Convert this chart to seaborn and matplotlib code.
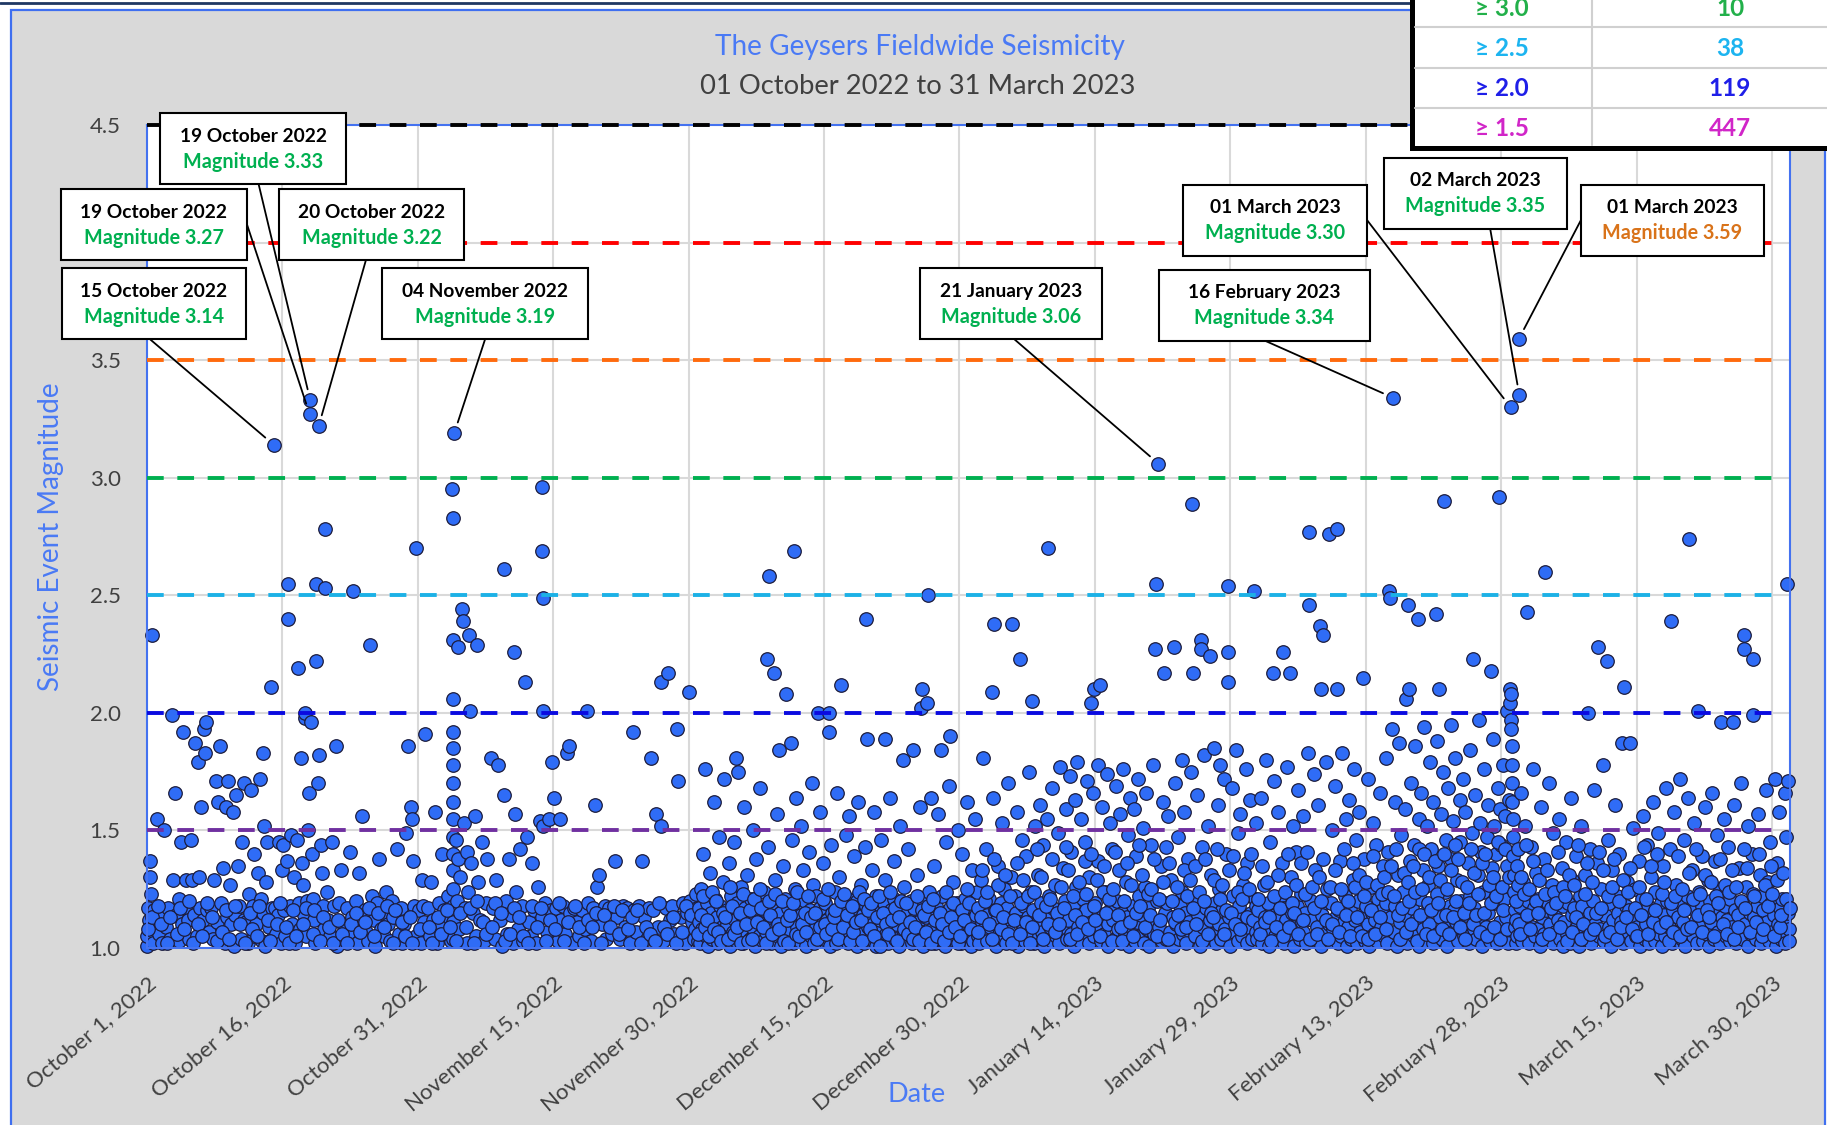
import matplotlib
matplotlib.use("Agg")
import matplotlib.pyplot as plt
import matplotlib.dates as mdates
from matplotlib.patches import Rectangle
from matplotlib.lines import Line2D
import numpy as np
import pandas as pd
import seaborn as sns

# ---------------------------------------------------------------------------
# Event catalogue: (day of month with fractional time, magnitude)
# ---------------------------------------------------------------------------
oct_events = [
    (1.0, 1.01), (1.0, 1.05), (1.1, 1.17), (1.2, 1.12), (1.3, 1.37), (1.3, 1.30), (1.4, 1.23), (1.6, 2.33), (1.7, 1.02), (1.8, 1.16),
    (2.1, 1.55), (2.3, 1.06), (2.5, 1.15), (2.7, 1.02), (2.9, 1.50),
    (3.1, 1.09), (3.3, 1.17), (3.6, 1.04), (3.8, 1.99), (3.9, 1.29),
    (4.1, 1.66), (4.2, 1.14), (4.5, 1.03), (4.6, 1.21), (4.8, 1.45), (4.9, 1.10),
    (5.0, 1.92), (5.2, 1.17), (5.3, 1.29), (5.5, 1.12), (5.7, 1.04), (5.9, 1.46),
    (6.0, 1.29), (6.2, 1.14), (6.3, 1.87), (6.5, 1.05), (6.6, 1.79), (6.8, 1.30), (6.9, 1.17),
    (7.0, 1.60), (7.2, 1.12), (7.3, 1.93), (7.4, 1.83), (7.5, 1.96), (7.7, 1.16), (7.9, 1.07),
    (8.1, 1.17), (8.3, 1.04), (8.4, 1.29), (8.6, 1.71), (8.8, 1.11), (8.9, 1.62),
    (9.1, 1.86), (9.2, 1.19), (9.4, 1.34), (9.6, 1.02), (9.7, 1.60), (9.9, 1.13),
    (10.0, 1.71), (10.2, 1.27), (10.3, 1.10), (10.5, 1.58), (10.6, 1.01), (10.8, 1.14), (10.9, 1.65),
    (11.1, 1.35), (11.2, 1.18), (11.4, 1.04), (11.5, 1.45), (11.7, 1.70), (11.8, 1.12),
    (12.0, 1.11), (12.2, 1.02), (12.3, 1.23), (12.5, 1.67), (12.7, 1.18), (12.8, 1.05), (12.9, 1.40),
    (13.1, 1.10), (13.3, 1.32), (13.5, 1.72), (13.6, 1.21), (13.7, 1.03), (13.8, 1.15), (13.9, 1.83),
    (14.0, 1.52), (14.1, 1.01), (14.2, 1.28), (14.3, 1.45), (14.5, 1.09), (14.7, 2.11), (14.8, 1.17), (14.9, 1.04),
    (15.04, 3.14), (15.2, 1.17), (15.3, 1.06), (15.5, 1.14), (15.6, 1.45), (15.8, 1.02), (15.9, 1.33),
    (16.1, 1.44), (16.2, 1.16), (16.3, 1.05), (16.5, 1.37), (16.6, 2.55), (16.65, 2.40), (16.8, 1.18), (16.9, 1.48),
    (17.1, 1.10), (17.3, 1.30), (17.4, 1.02), (17.6, 1.46), (17.7, 2.19), (17.8, 1.19), (17.9, 1.08),
    (18.1, 1.81), (18.2, 1.36), (18.3, 1.27), (18.4, 1.14), (18.5, 1.98), (18.55, 2.00), (18.6, 1.05), (18.7, 1.20), (18.8, 1.50), (18.9, 1.66),
    (19.02, 3.27), (19.08, 3.33), (19.2, 1.96), (19.3, 1.40), (19.4, 1.21), (19.5, 1.12), (19.6, 1.02), (19.7, 2.22), (19.75, 2.55), (19.9, 1.70),
    (20.02, 3.22), (20.1, 1.82), (20.3, 1.44), (20.4, 1.32), (20.5, 1.18), (20.6, 1.08), (20.7, 2.78), (20.75, 2.53), (20.9, 1.24),
    (21.1, 1.12), (21.3, 1.05), (21.5, 1.45), (21.7, 1.18), (21.9, 1.86),
    (22.1, 1.01), (22.3, 1.19), (22.5, 1.33), (22.7, 1.10), (22.9, 1.04),
    (23.1, 1.17), (23.3, 1.06), (23.5, 1.41), (23.7, 1.13), (23.8, 2.52),
    (24.1, 1.20), (24.3, 1.02), (24.5, 1.32), (24.8, 1.56), (24.9, 1.11),
    (25.1, 1.16), (25.3, 1.07), (25.5, 1.03), (25.7, 2.29), (25.9, 1.22),
    (26.1, 1.12), (26.3, 1.01), (26.5, 1.19), (26.7, 1.38), (26.9, 1.08),
    (27.1, 1.15), (27.3, 1.05), (27.5, 1.24), (27.7, 1.10), (27.9, 1.03),
    (28.1, 1.20), (28.3, 1.13), (28.7, 1.42), (28.9, 1.06),
    (29.1, 1.17), (29.3, 1.02), (29.5, 1.10), (29.7, 1.49), (29.9, 1.86),
    (30.2, 1.60), (30.3, 1.55), (30.5, 1.37), (30.6, 1.18), (30.8, 2.70), (30.85, 1.05),
    (31.1, 1.16), (31.3, 1.02), (31.5, 1.29), (31.7, 1.11), (31.8, 1.91),
    (1.15, 1.08), (1.5, 1.13), (2.2, 1.18), (2.6, 1.10), (3.2, 1.02), (3.5, 1.13), (4.3, 1.06), (4.7, 1.17),
    (5.1, 1.08), (5.6, 1.20), (6.1, 1.02), (6.7, 1.10), (7.1, 1.05), (7.6, 1.19), (8.2, 1.13), (8.7, 1.03),
    (9.3, 1.07), (9.8, 1.16), (10.1, 1.04), (10.7, 1.18), (11.3, 1.10), (11.9, 1.02), (12.4, 1.15), (12.6, 1.08),
    (13.2, 1.05), (13.4, 1.18), (14.4, 1.12), (14.6, 1.03), (15.4, 1.10), (15.7, 1.19), (16.4, 1.09), (16.7, 1.02),
    (17.2, 1.16), (17.5, 1.05), (18.25, 1.10), (18.65, 1.17), (19.35, 1.06), (19.55, 1.16), (20.2, 1.03), (20.55, 1.13),
    (21.2, 1.09), (21.6, 1.02), (22.2, 1.12), (22.6, 1.06), (23.2, 1.02), (23.6, 1.10), (24.2, 1.15), (24.6, 1.07),
    (25.2, 1.11), (25.6, 1.17), (26.2, 1.05), (26.6, 1.15), (27.2, 1.09), (27.6, 1.18), (28.2, 1.02), (28.5, 1.16),
    (29.2, 1.11), (29.6, 1.05), (30.1, 1.13), (30.4, 1.02), (31.2, 1.08), (31.6, 1.18),
]

nov_events = [
    (1.1, 1.17), (1.3, 1.05), (1.5, 1.28), (1.7, 1.12), (1.9, 1.58),
    (2.1, 1.02), (2.3, 1.19), (2.5, 1.10), (2.7, 1.40), (2.9, 1.16),
    (3.1, 1.06), (3.3, 1.22), (3.5, 1.13), (3.7, 1.03),
    (3.8, 2.95), (3.85, 2.83), (3.9, 2.06), (3.9, 1.92), (3.9, 1.85), (3.9, 1.78), (3.9, 1.70), (3.9, 1.62), (3.9, 1.55),
    (3.9, 1.47), (3.9, 1.40), (3.9, 1.33), (3.9, 1.25), (3.9, 1.18), (3.9, 1.11), (3.9, 1.04), (3.95, 2.31),
    (4.04, 3.19), (4.2, 1.46), (4.3, 1.20), (4.4, 2.28), (4.5, 1.38), (4.6, 1.08), (4.7, 1.30), (4.9, 2.44), (4.95, 2.39),
    (5.1, 1.53), (5.2, 1.17), (5.4, 1.41), (5.5, 1.02), (5.6, 1.24), (5.7, 2.33), (5.8, 2.01), (5.9, 1.36),
    (6.1, 1.15), (6.3, 1.56), (6.4, 1.05), (6.6, 2.29), (6.7, 1.28), (6.9, 1.12),
    (7.1, 1.45), (7.3, 1.03), (7.5, 1.19), (7.7, 1.38), (7.9, 1.09),
    (8.1, 1.81), (8.3, 1.17), (8.5, 1.04), (8.7, 1.29), (8.9, 1.78),
    (9.1, 1.12), (9.3, 1.01), (9.5, 1.65), (9.6, 2.61), (9.8, 1.20), (9.9, 1.06),
    (10.1, 1.38), (10.3, 1.14), (10.5, 1.02), (10.6, 2.26), (10.8, 1.57), (10.9, 1.24),
    (11.1, 1.08), (11.3, 1.42), (11.5, 1.18), (11.7, 1.03), (11.9, 2.13),
    (12.1, 1.47), (12.3, 1.11), (12.5, 1.05), (12.7, 1.36), (12.9, 1.16),
    (13.1, 1.02), (13.3, 1.26), (13.5, 1.54), (13.7, 1.13), (13.8, 2.96), (13.8, 2.69), (13.85, 2.49), (13.9, 2.01), (13.9, 1.52),
    (14.1, 1.19), (14.3, 1.07), (14.5, 1.55), (14.7, 1.16), (14.9, 1.79),
    (15.1, 1.64), (15.3, 1.17), (15.5, 1.03), (15.7, 1.55), (15.9, 1.12),
    (16.1, 1.18), (16.3, 1.06), (16.5, 1.83), (16.7, 1.86), (16.9, 1.15),
    (17.1, 1.02), (17.3, 1.17), (17.6, 1.11), (17.9, 1.05),
    (18.2, 1.16), (18.5, 1.08), (18.7, 2.01), (18.9, 1.19),
    (19.2, 1.03), (19.4, 1.17), (19.6, 1.61), (19.8, 1.26),
    (20.1, 1.31), (20.4, 1.10), (20.7, 1.18), (20.9, 1.04),
    (21.2, 1.17), (21.5, 1.06), (21.8, 1.37),
    (22.1, 1.13), (22.4, 1.04), (22.7, 1.18), (22.9, 1.09),
    (23.2, 1.17), (23.5, 1.02), (23.8, 1.92), (23.9, 1.16),
    (24.2, 1.07), (24.5, 1.18), (24.8, 1.37),
    (25.1, 1.13), (25.4, 1.04), (25.6, 1.17), (25.8, 1.81),
    (26.1, 1.16), (26.4, 1.57), (26.6, 1.09), (26.9, 2.13), (26.9, 1.52),
    (27.2, 1.03), (27.5, 1.17), (27.7, 2.17), (27.9, 1.12),
    (28.2, 1.18), (28.4, 1.06), (28.7, 1.93), (28.8, 1.71),
    (29.1, 1.13), (29.4, 1.19), (29.6, 1.02), (29.8, 1.15),
    (30.0, 2.09), (30.2, 1.20), (30.4, 1.11), (30.6, 1.04), (30.8, 1.23), (30.9, 1.17),
    (1.2, 1.09), (1.6, 1.02), (2.2, 1.13), (2.6, 1.06), (3.2, 1.16), (3.6, 1.09), (4.25, 1.03), (4.65, 1.15),
    (5.3, 1.09), (5.75, 1.17), (6.2, 1.02), (6.5, 1.20), (7.2, 1.11), (7.6, 1.06), (8.2, 1.09), (8.6, 1.19),
    (9.2, 1.15), (9.7, 1.03), (10.2, 1.06), (10.7, 1.17), (11.2, 1.13), (11.6, 1.05), (12.2, 1.02), (12.6, 1.18),
    (13.2, 1.09), (13.6, 1.17), (14.2, 1.03), (14.6, 1.12), (15.2, 1.08), (15.6, 1.19), (16.2, 1.03), (16.6, 1.11),
    (17.4, 1.18), (17.8, 1.09), (18.4, 1.02), (18.8, 1.12), (19.3, 1.09), (19.7, 1.15), (20.3, 1.02), (20.6, 1.14),
    (21.3, 1.09), (21.7, 1.18), (22.3, 1.06), (22.6, 1.16), (23.3, 1.08), (23.7, 1.13), (24.3, 1.16), (24.7, 1.02),
    (25.3, 1.09), (25.7, 1.06), (26.3, 1.03), (26.7, 1.19), (27.3, 1.09), (27.6, 1.06), (28.3, 1.13), (28.6, 1.02),
    (29.3, 1.07), (29.7, 1.18), (30.3, 1.14), (30.7, 1.08),
]

dec_events = [
    (1.0, 1.03), (1.1, 1.11), (1.2, 1.17), (1.3, 1.02), (1.4, 1.25), (1.5, 1.08), (1.6, 1.40), (1.7, 1.14), (1.8, 1.76), (1.9, 1.05),
    (2.0, 1.19), (2.1, 1.01), (2.3, 1.09), (2.4, 1.32), (2.5, 1.15), (2.6, 1.04), (2.8, 1.62), (2.9, 1.21),
    (3.0, 1.06), (3.1, 1.13), (3.3, 1.02), (3.4, 1.47), (3.5, 1.18), (3.7, 1.09), (3.8, 1.28), (3.9, 1.72),
    (4.0, 1.04), (4.2, 1.16), (4.3, 1.10), (4.5, 1.36), (4.6, 1.01), (4.7, 1.22), (4.9, 1.07),
    (5.0, 1.45), (5.1, 1.12), (5.2, 1.81), (5.3, 1.03), (5.4, 1.19), (5.5, 1.75), (5.6, 1.08), (5.8, 1.26), (5.9, 1.14),
    (6.0, 1.02), (6.1, 1.60), (6.2, 1.17), (6.4, 1.06), (6.5, 1.31), (6.6, 1.11), (6.8, 1.04), (6.9, 1.21),
    (7.0, 1.09), (7.1, 1.50), (7.3, 1.14), (7.4, 1.01), (7.5, 1.38), (7.7, 1.18), (7.8, 1.05), (7.9, 1.68),
    (8.0, 1.12), (8.2, 1.03), (8.3, 1.24), (8.4, 1.16), (8.6, 1.07), (8.7, 2.23), (8.8, 1.43), (8.9, 2.58), (8.95, 1.10),
    (9.1, 1.02), (9.2, 1.19), (9.4, 2.17), (9.5, 1.08), (9.6, 1.29), (9.7, 1.13), (9.8, 1.57), (9.9, 1.05),
    (10.0, 1.84), (10.1, 1.15), (10.2, 1.01), (10.4, 1.35), (10.5, 1.10), (10.7, 1.21), (10.8, 2.08), (10.9, 1.04),
    (11.0, 1.17), (11.1, 1.07), (11.3, 1.87), (11.4, 1.12), (11.5, 1.46), (11.6, 1.02), (11.7, 2.69), (11.8, 1.25), (11.9, 1.64),
    (12.0, 1.09), (12.1, 1.18), (12.3, 1.03), (12.4, 1.52), (12.5, 1.14), (12.7, 1.33), (12.8, 1.06), (12.9, 1.20),
    (13.0, 1.01), (13.2, 1.11), (13.3, 1.41), (13.4, 1.16), (13.6, 1.05), (13.7, 1.70), (13.8, 1.27), (13.9, 1.13),
    (14.0, 1.08), (14.1, 1.22), (14.3, 2.00), (14.4, 1.03), (14.5, 1.17), (14.6, 1.58), (14.8, 1.10), (14.9, 1.36),
    (15.0, 1.04), (15.1, 1.19), (15.3, 1.12), (15.5, 2.00), (15.6, 1.92), (15.7, 1.01), (15.8, 1.44), (15.9, 1.15),
    (16.0, 1.07), (16.2, 1.24), (16.3, 1.02), (16.4, 1.66), (16.5, 1.13), (16.7, 1.30), (16.8, 1.09), (16.9, 2.12),
    (17.0, 1.18), (17.1, 1.05), (17.3, 1.11), (17.4, 1.48), (17.6, 1.02), (17.7, 1.21), (17.8, 1.56), (17.9, 1.14),
    (18.0, 1.03), (18.2, 1.16), (18.3, 1.39), (18.4, 1.08), (18.6, 1.20), (18.7, 1.01), (18.8, 1.62), (18.9, 1.12),
    (19.0, 1.06), (19.1, 1.27), (19.3, 1.14), (19.4, 1.02), (19.5, 1.43), (19.6, 1.18), (19.7, 2.40), (19.75, 1.89), (19.9, 1.09),
    (20.0, 1.15), (20.1, 1.04), (20.3, 1.33), (20.4, 1.10), (20.5, 1.58), (20.7, 1.01), (20.8, 1.22), (20.9, 1.17),
    (21.0, 1.07), (21.2, 1.12), (21.3, 1.46), (21.4, 1.03), (21.6, 1.19), (21.7, 1.29), (21.8, 1.89), (21.9, 1.06),
    (22.0, 1.13), (22.1, 1.02), (22.3, 1.64), (22.4, 1.16), (22.5, 1.08), (22.7, 1.37), (22.8, 1.21), (22.9, 1.04),
    (23.0, 1.10), (23.2, 1.18), (23.3, 1.01), (23.4, 1.52), (23.6, 1.14), (23.7, 1.80), (23.8, 1.26), (23.9, 1.06),
    (24.0, 1.03), (24.1, 1.15), (24.3, 1.42), (24.4, 1.09), (24.6, 1.20), (24.7, 1.02), (24.8, 1.84), (24.9, 1.12),
    (25.0, 1.17), (25.2, 1.05), (25.3, 1.31), (25.4, 1.11), (25.6, 1.60), (25.7, 2.02), (25.8, 2.10), (25.9, 1.07),
    (26.0, 1.01), (26.1, 1.19), (26.3, 1.13), (26.4, 2.04), (26.5, 2.50), (26.6, 1.24), (26.7, 1.05), (26.8, 1.64), (26.9, 1.15),
    (27.0, 1.08), (27.2, 1.35), (27.3, 1.02), (27.4, 1.18), (27.6, 1.57), (27.7, 1.11), (27.9, 1.84),
    (28.0, 1.04), (28.1, 1.22), (28.3, 1.14), (28.4, 1.01), (28.5, 1.45), (28.7, 1.09), (28.8, 1.69), (28.9, 1.17),
    (29.0, 1.90), (29.1, 1.06), (29.3, 1.28), (29.4, 1.12), (29.5, 1.03), (29.7, 1.19), (29.8, 1.50), (29.9, 1.08),
    (30.0, 1.15), (30.2, 1.02), (30.3, 1.40), (30.4, 1.10), (30.6, 1.21), (30.7, 1.05), (30.8, 1.62), (30.9, 1.13),
    (31.0, 1.07), (31.1, 1.18), (31.3, 1.01), (31.4, 1.33), (31.5, 1.12), (31.7, 1.55), (31.8, 1.04), (31.9, 1.24),
    (1.05, 1.06), (1.35, 1.14), (1.55, 1.22), (1.85, 1.09), (2.05, 1.12), (2.25, 1.05), (2.55, 1.24), (2.85, 1.08),
    (3.05, 1.20), (3.25, 1.07), (3.55, 1.03), (3.85, 1.15), (4.05, 1.13), (4.35, 1.04), (4.55, 1.26), (4.85, 1.18),
    (5.05, 1.06), (5.35, 1.09), (5.65, 1.15), (5.85, 1.02), (6.05, 1.23), (6.35, 1.10), (6.55, 1.03), (6.85, 1.16),
    (7.05, 1.04), (7.25, 1.21), (7.55, 1.11), (7.85, 1.25), (8.05, 1.17), (8.25, 1.09), (8.55, 1.02), (8.85, 1.20),
    (9.05, 1.14), (9.25, 1.06), (9.55, 1.23), (9.85, 1.10), (10.05, 1.08), (10.35, 1.20), (10.55, 1.03), (10.85, 1.12),
    (11.05, 1.02), (11.25, 1.14), (11.55, 1.19), (11.85, 1.06), (12.05, 1.24), (12.25, 1.05), (12.55, 1.10), (12.85, 1.15),
    (13.05, 1.07), (13.25, 1.22), (13.55, 1.13), (13.85, 1.02), (14.05, 1.15), (14.25, 1.04), (14.55, 1.09), (14.85, 1.21),
    (15.05, 1.10), (15.25, 1.06), (15.45, 1.25), (15.85, 1.08), (16.05, 1.13), (16.25, 1.16), (16.55, 1.04), (16.85, 1.20),
    (17.05, 1.09), (17.25, 1.23), (17.55, 1.14), (17.85, 1.03), (18.05, 1.18), (18.25, 1.07), (18.55, 1.11), (18.85, 1.24),
    (19.05, 1.12), (19.25, 1.03), (19.45, 1.21), (19.85, 1.16), (20.05, 1.08), (20.25, 1.19), (20.55, 1.05), (20.85, 1.13),
    (21.05, 1.22), (21.25, 1.01), (21.55, 1.15), (21.85, 1.10), (22.05, 1.06), (22.25, 1.24), (22.55, 1.12), (22.85, 1.17),
    (23.05, 1.03), (23.25, 1.13), (23.55, 1.20), (23.85, 1.08), (24.05, 1.19), (24.25, 1.06), (24.55, 1.11), (24.85, 1.04),
    (25.05, 1.09), (25.25, 1.22), (25.55, 1.03), (25.85, 1.16), (26.05, 1.14), (26.25, 1.07), (26.55, 1.18), (26.85, 1.02),
    (27.05, 1.21), (27.25, 1.12), (27.55, 1.05), (27.85, 1.15), (28.05, 1.10), (28.25, 1.03), (28.55, 1.24), (28.85, 1.07),
    (29.05, 1.13), (29.25, 1.19), (29.55, 1.09), (29.85, 1.02), (30.05, 1.05), (30.25, 1.16), (30.55, 1.12), (30.85, 1.25),
    (31.05, 1.19), (31.25, 1.08), (31.55, 1.03), (31.85, 1.14),
]

jan_events = [
    (1.0, 1.05), (1.1, 1.17), (1.2, 1.02), (1.4, 1.29), (1.5, 1.11), (1.6, 1.81), (1.7, 1.08), (1.9, 1.42),
    (2.0, 1.14), (2.1, 1.03), (2.3, 1.21), (2.4, 1.09), (2.6, 2.09), (2.7, 1.64), (2.8, 2.38), (2.9, 1.16),
    (3.0, 1.01), (3.2, 1.12), (3.3, 1.35), (3.4, 1.06), (3.6, 1.19), (3.7, 1.53), (3.8, 1.04), (3.9, 1.25),
    (4.0, 1.10), (4.1, 1.02), (4.3, 1.17), (4.4, 1.70), (4.5, 1.07), (4.7, 1.30), (4.8, 2.38), (4.9, 1.13),
    (5.0, 1.04), (5.1, 1.22), (5.3, 1.15), (5.4, 1.58), (5.5, 1.01), (5.7, 2.23), (5.8, 1.11), (5.9, 1.46),
    (6.0, 1.08), (6.2, 1.18), (6.3, 1.03), (6.4, 1.39), (6.6, 1.13), (6.7, 1.75), (6.8, 1.06), (6.9, 1.24),
    (7.0, 2.05), (7.1, 1.16), (7.3, 1.02), (7.4, 1.52), (7.5, 1.10), (7.7, 1.31), (7.8, 1.05), (7.9, 1.61),
    (8.0, 1.19), (8.1, 1.07), (8.3, 1.44), (8.4, 1.01), (8.5, 1.14), (8.7, 1.55), (8.8, 2.70), (8.9, 1.22),
    (9.0, 1.09), (9.2, 1.03), (9.3, 1.68), (9.4, 1.17), (9.6, 1.27), (9.7, 1.05), (9.8, 1.12), (9.9, 1.49),
    (10.0, 1.02), (10.1, 1.77), (10.3, 1.15), (10.4, 1.08), (10.5, 1.34), (10.7, 1.20), (10.8, 1.59), (10.9, 1.04),
    (11.0, 1.12), (11.2, 1.73), (11.3, 1.06), (11.4, 1.41), (11.6, 1.18), (11.7, 1.01), (11.8, 1.63), (11.9, 1.26),
    (12.0, 1.79), (12.1, 1.09), (12.3, 1.14), (12.4, 1.03), (12.5, 1.55), (12.7, 1.21), (12.8, 1.07), (12.9, 1.45),
    (13.0, 1.16), (13.1, 1.71), (13.3, 1.02), (13.4, 1.30), (13.6, 2.04), (13.7, 1.11), (13.8, 1.66), (13.9, 2.10), (13.95, 1.05),
    (14.0, 1.19), (14.2, 1.08), (14.3, 1.78), (14.4, 1.37), (14.6, 2.12), (14.7, 1.03), (14.8, 1.60), (14.9, 1.14),
    (15.0, 1.06), (15.1, 1.24), (15.3, 1.74), (15.4, 1.10), (15.5, 1.01), (15.7, 1.53), (15.8, 1.17), (15.9, 1.42),
    (16.0, 1.12), (16.2, 1.04), (16.3, 1.69), (16.4, 1.20), (16.6, 1.08), (16.7, 1.33), (16.8, 1.57), (16.9, 1.02),
    (17.0, 1.15), (17.1, 1.76), (17.3, 1.06), (17.4, 1.28), (17.6, 1.13), (17.7, 1.48), (17.8, 1.01), (17.9, 1.64),
    (18.0, 1.09), (18.2, 1.18), (18.3, 1.59), (18.4, 1.03), (18.6, 1.39), (18.7, 1.11), (18.8, 1.72), (18.9, 1.22),
    (19.0, 1.05), (19.1, 1.14), (19.3, 1.51), (19.4, 1.02), (19.5, 1.26), (19.7, 1.66), (19.8, 1.08), (19.9, 1.17),
    (20.0, 1.01), (20.2, 1.44), (20.3, 1.12), (20.4, 1.78), (20.6, 1.06), (20.7, 2.27), (20.8, 2.55), (20.9, 1.20),
    (21.04, 3.06), (21.1, 1.09), (21.3, 1.35), (21.4, 1.03), (21.5, 1.62), (21.7, 2.17), (21.8, 1.15), (21.9, 1.04),
    (22.0, 1.19), (22.1, 1.56), (22.3, 1.07), (22.4, 1.29), (22.6, 1.13), (22.7, 1.01), (22.8, 2.28), (22.9, 1.70),
    (23.0, 1.10), (23.2, 1.47), (23.3, 1.04), (23.4, 1.18), (23.6, 1.80), (23.7, 1.24), (23.8, 1.06), (23.9, 1.58),
    (24.0, 1.15), (24.1, 1.02), (24.3, 1.38), (24.4, 1.11), (24.6, 1.75), (24.8, 2.89), (24.85, 2.17), (24.9, 1.08),
    (25.0, 1.21), (25.1, 1.05), (25.3, 1.65), (25.4, 1.14), (25.6, 1.01), (25.7, 2.31), (25.75, 2.27), (25.9, 1.43),
    (26.0, 1.09), (26.1, 1.82), (26.3, 1.17), (26.4, 1.03), (26.5, 1.52), (26.7, 2.24), (26.8, 1.12), (26.9, 1.31),
    (27.0, 1.06), (27.2, 1.85), (27.3, 1.19), (27.4, 1.02), (27.6, 1.61), (27.7, 1.25), (27.8, 1.10), (27.9, 1.78),
    (28.0, 1.04), (28.1, 1.16), (28.3, 1.72), (28.4, 1.08), (28.5, 1.40), (28.7, 2.54), (28.75, 2.26), (28.8, 2.13), (28.9, 1.13),
    (29.0, 1.01), (29.2, 1.68), (29.3, 1.22), (29.4, 1.07), (29.6, 1.84), (29.7, 1.14), (29.8, 1.49), (29.9, 1.03),
    (30.0, 1.18), (30.1, 1.57), (30.3, 1.05), (30.4, 1.27), (30.6, 1.11), (30.7, 1.76), (30.8, 1.02), (30.9, 1.36),
    (31.0, 1.09), (31.2, 1.63), (31.3, 1.15), (31.4, 1.04), (31.6, 2.52), (31.7, 1.21), (31.8, 1.53), (31.9, 1.07),
    (1.05, 1.07), (1.35, 1.13), (1.55, 1.33), (1.85, 1.20), (2.05, 1.24), (2.25, 1.10), (2.55, 1.04), (2.85, 1.38),
    (3.05, 1.16), (3.25, 1.27), (3.55, 1.08), (3.85, 1.13), (4.05, 1.31), (4.35, 1.06), (4.55, 1.22), (4.85, 1.02),
    (5.05, 1.12), (5.35, 1.36), (5.65, 1.06), (5.85, 1.19), (6.05, 1.29), (6.35, 1.11), (6.55, 1.22), (6.85, 1.02),
    (7.05, 1.09), (7.25, 1.24), (7.55, 1.42), (7.85, 1.14), (8.05, 1.30), (8.25, 1.04), (8.55, 1.18), (8.85, 1.10),
    (9.05, 1.21), (9.25, 1.38), (9.55, 1.07), (9.85, 1.15), (10.05, 1.10), (10.25, 1.26), (10.55, 1.17), (10.85, 1.43),
    (11.05, 1.33), (11.25, 1.04), (11.55, 1.22), (11.85, 1.14), (12.05, 1.06), (12.25, 1.28), (12.55, 1.11), (12.85, 1.37),
    (13.05, 1.23), (13.25, 1.08), (13.55, 1.40), (13.85, 1.18), (14.05, 1.12), (14.25, 1.29), (14.55, 1.05), (14.85, 1.24),
    (15.05, 1.35), (15.25, 1.15), (15.55, 1.21), (15.85, 1.03), (16.05, 1.25), (16.25, 1.41), (16.55, 1.14), (16.85, 1.09),
    (17.05, 1.03), (17.25, 1.20), (17.55, 1.36), (17.85, 1.11), (18.05, 1.27), (18.25, 1.05), (18.55, 1.15), (18.85, 1.44),
    (19.05, 1.18), (19.25, 1.31), (19.55, 1.09), (19.85, 1.23), (20.05, 1.14), (20.25, 1.25), (20.55, 1.38), (20.85, 1.05),
    (21.05, 1.21), (21.25, 1.12), (21.55, 1.28), (21.85, 1.43), (22.05, 1.04), (22.25, 1.36), (22.55, 1.20), (22.85, 1.11),
    (23.05, 1.26), (23.25, 1.14), (23.55, 1.08), (23.85, 1.33), (24.05, 1.09), (24.25, 1.22), (24.55, 1.29), (24.85, 1.17),
    (25.05, 1.35), (25.25, 1.10), (25.55, 1.24), (25.85, 1.03), (26.05, 1.20), (26.25, 1.38), (26.55, 1.06), (26.85, 1.15),
    (27.05, 1.13), (27.25, 1.29), (27.55, 1.42), (27.85, 1.21), (28.05, 1.27), (28.25, 1.06), (28.55, 1.16), (28.85, 1.33),
    (29.05, 1.15), (29.25, 1.39), (29.55, 1.10), (29.85, 1.24), (30.05, 1.08), (30.25, 1.21), (30.55, 1.32), (30.85, 1.13),
    (31.05, 1.25), (31.25, 1.40), (31.55, 1.12), (31.85, 1.18),
]

feb_events = [
    (1.0, 1.04), (1.1, 1.16), (1.3, 1.09), (1.4, 1.64), (1.5, 1.02), (1.7, 1.27), (1.8, 1.13), (1.9, 1.80),
    (2.0, 1.07), (2.2, 1.19), (2.3, 1.01), (2.4, 1.45), (2.6, 1.11), (2.7, 2.17), (2.8, 1.71), (2.9, 1.05),
    (3.0, 1.14), (3.1, 1.03), (3.3, 1.58), (3.4, 1.21), (3.6, 1.08), (3.7, 1.36), (3.8, 2.26), (3.9, 1.17),
    (4.0, 1.02), (4.2, 1.12), (4.3, 1.77), (4.4, 1.06), (4.6, 2.17), (4.7, 1.30), (4.8, 1.15), (4.9, 1.52),
    (5.0, 1.09), (5.1, 1.01), (5.3, 1.41), (5.4, 1.18), (5.5, 1.67), (5.7, 1.04), (5.8, 1.23), (5.9, 1.11),
    (6.0, 1.56), (6.1, 1.07), (6.3, 1.15), (6.4, 1.02), (6.6, 1.83), (6.7, 2.77), (6.75, 2.46), (6.9, 1.20),
    (7.0, 1.12), (7.2, 1.04), (7.3, 1.74), (7.4, 1.33), (7.6, 1.09), (7.7, 1.61), (7.9, 2.37), (7.95, 1.17),
    (8.0, 1.01), (8.1, 2.10), (8.2, 1.14), (8.3, 2.33), (8.4, 1.06), (8.6, 1.79), (8.7, 1.25), (8.9, 2.76), (8.95, 1.10),
    (9.0, 1.03), (9.2, 1.19), (9.3, 1.50), (9.4, 1.08), (9.6, 1.69), (9.7, 1.13), (9.8, 2.78), (9.85, 2.10), (9.9, 1.02),
    (10.0, 1.16), (10.1, 1.37), (10.3, 1.05), (10.4, 1.83), (10.6, 1.11), (10.7, 1.22), (10.8, 1.55), (10.9, 1.01),
    (11.0, 1.09), (11.2, 1.63), (11.3, 1.17), (11.4, 1.04), (11.6, 1.29), (11.7, 1.76), (11.8, 1.12), (11.9, 1.46),
    (12.0, 1.02), (12.1, 1.20), (12.3, 1.58), (12.4, 1.07), (12.6, 1.14), (12.7, 2.15), (12.8, 1.38), (12.9, 1.03),
    (13.0, 1.18), (13.2, 1.10), (13.3, 1.72), (13.4, 1.01), (13.6, 1.26), (13.7, 1.15), (13.8, 1.53), (13.9, 1.06),
    (14.0, 1.12), (14.1, 1.44), (14.3, 1.03), (14.4, 1.21), (14.6, 1.66), (14.7, 1.09), (14.8, 1.16), (14.9, 1.35),
    (15.0, 1.05), (15.2, 1.19), (15.3, 1.81), (15.4, 1.02), (15.5, 1.41), (15.6, 2.52), (15.65, 2.49), (15.8, 1.13), (15.9, 1.93),
    (16.04, 3.34), (16.1, 1.07), (16.2, 1.62), (16.3, 1.18), (16.5, 1.01), (16.6, 1.31), (16.7, 1.87), (16.8, 1.11), (16.9, 1.48),
    (17.0, 1.04), (17.1, 1.24), (17.3, 1.59), (17.4, 1.14), (17.5, 2.06), (17.6, 1.02), (17.7, 2.46), (17.8, 2.10), (17.9, 1.37), (17.95, 1.09),
    (18.0, 1.70), (18.1, 1.17), (18.3, 1.05), (18.4, 1.44), (18.5, 1.86), (18.6, 1.12), (18.8, 2.40), (18.85, 1.55), (18.9, 1.01),
    (19.0, 1.21), (19.1, 1.66), (19.3, 1.08), (19.4, 1.33), (19.5, 1.94), (19.6, 1.15), (19.7, 1.03), (19.8, 1.52), (19.9, 1.27),
    (20.0, 1.10), (20.1, 1.79), (20.2, 1.42), (20.4, 1.02), (20.5, 1.62), (20.6, 1.19), (20.8, 2.42), (20.85, 1.88), (20.9, 1.06),
    (21.0, 1.35), (21.1, 2.10), (21.2, 1.13), (21.3, 1.57), (21.5, 1.04), (21.6, 1.75), (21.7, 2.90), (21.8, 1.24), (21.9, 1.46), (21.95, 1.09),
    (22.0, 1.01), (22.1, 1.68), (22.3, 1.18), (22.4, 1.95), (22.5, 1.38), (22.6, 1.07), (22.7, 1.54), (22.8, 1.16), (22.9, 1.81),
    (23.0, 1.11), (23.1, 1.29), (23.2, 1.03), (23.4, 1.63), (23.5, 1.45), (23.6, 1.20), (23.8, 1.72), (23.9, 1.05),
    (24.0, 1.58), (24.1, 1.14), (24.3, 1.36), (24.4, 1.02), (24.5, 1.84), (24.6, 1.22), (24.8, 1.49), (24.9, 2.23), (24.95, 1.08),
    (25.0, 1.17), (25.1, 1.65), (25.2, 1.04), (25.4, 1.31), (25.5, 1.97), (25.6, 1.12), (25.7, 1.53), (25.8, 1.41), (25.9, 1.01),
    (26.0, 1.24), (26.1, 1.76), (26.3, 1.09), (26.4, 1.47), (26.5, 1.15), (26.6, 1.61), (26.8, 1.03), (26.9, 2.18), (26.95, 1.34),
    (27.0, 1.07), (27.1, 1.89), (27.2, 1.52), (27.3, 1.19), (27.4, 1.40), (27.5, 1.02), (27.6, 1.68), (27.7, 1.26), (27.8, 2.92), (27.85, 1.59), (27.9, 1.11),
    (28.0, 1.44), (28.1, 1.05), (28.2, 1.78), (28.3, 1.21), (28.4, 1.56), (28.5, 1.13), (28.6, 1.35), (28.7, 2.01), (28.8, 1.02), (28.9, 1.63),
    (1.05, 1.21), (1.25, 1.06), (1.55, 1.35), (1.85, 1.11), (2.05, 1.28), (2.25, 1.13), (2.55, 1.03), (2.85, 1.22),
    (3.05, 1.09), (3.25, 1.31), (3.55, 1.17), (3.85, 1.05), (4.05, 1.24), (4.35, 1.40), (4.55, 1.09), (4.85, 1.19),
    (5.05, 1.15), (5.25, 1.27), (5.55, 1.06), (5.85, 1.36), (6.05, 1.12), (6.25, 1.23), (6.55, 1.41), (6.85, 1.04),
    (7.05, 1.26), (7.25, 1.17), (7.55, 1.06), (7.85, 1.30), (8.05, 1.20), (8.25, 1.38), (8.55, 1.12), (8.85, 1.04),
    (9.05, 1.26), (9.25, 1.10), (9.55, 1.33), (9.85, 1.17), (10.05, 1.07), (10.25, 1.25), (10.55, 1.42), (10.85, 1.14),
    (11.05, 1.20), (11.25, 1.05), (11.55, 1.36), (11.85, 1.26), (12.05, 1.13), (12.25, 1.31), (12.55, 1.05), (12.85, 1.22),
    (13.05, 1.28), (13.25, 1.04), (13.55, 1.16), (13.85, 1.39), (14.05, 1.06), (14.25, 1.27), (14.55, 1.13), (14.85, 1.23),
    (15.05, 1.30), (15.25, 1.08), (15.45, 1.24), (15.75, 1.35), (16.15, 1.22), (16.35, 1.42), (16.55, 1.14), (16.85, 1.04),
    (17.05, 1.17), (17.25, 1.32), (17.45, 1.07), (17.65, 1.28), (17.85, 1.20), (18.05, 1.10), (18.25, 1.35), (18.45, 1.24),
    (18.65, 1.03), (18.95, 1.42), (19.05, 1.14), (19.25, 1.25), (19.45, 1.40), (19.65, 1.06), (19.85, 1.19), (20.05, 1.30),
    (20.25, 1.16), (20.45, 1.05), (20.65, 1.37), (20.95, 1.23), (21.05, 1.19), (21.25, 1.29), (21.45, 1.08), (21.65, 1.40),
    (21.85, 1.14), (22.05, 1.25), (22.25, 1.06), (22.45, 1.33), (22.65, 1.13), (22.85, 1.44), (23.05, 1.20), (23.25, 1.38),
    (23.45, 1.09), (23.65, 1.28), (23.85, 1.15), (24.05, 1.04), (24.25, 1.26), (24.45, 1.19), (24.65, 1.42), (24.85, 1.10),
    (25.05, 1.32), (25.25, 1.14), (25.45, 1.23), (25.65, 1.07), (25.85, 1.36), (26.05, 1.15), (26.25, 1.40), (26.45, 1.05),
    (26.65, 1.27), (26.85, 1.19), (27.05, 1.30), (27.25, 1.09), (27.45, 1.22), (27.65, 1.45), (27.85, 1.04), (28.05, 1.26),
    (28.25, 1.16), (28.45, 1.42), (28.65, 1.08), (28.85, 1.30),
]

mar_events = [
    (1.0, 2.10), (1.0, 2.04), (1.05, 2.08), (1.04, 3.30), (1.1, 1.97), (1.1, 1.93), (1.15, 1.86), (1.2, 1.78), (1.2, 1.70), (1.25, 1.62),
    (1.3, 1.55), (1.3, 1.47), (1.35, 1.39), (1.4, 1.31), (1.45, 1.24), (1.5, 1.16), (1.55, 1.09), (1.6, 1.02), (1.7, 1.12), (1.8, 1.05), (1.96, 3.59),
    (2.02, 3.35), (2.1, 1.18), (2.2, 1.66), (2.3, 1.03), (2.4, 1.28), (2.5, 1.11), (2.6, 1.52), (2.7, 1.07), (2.9, 2.43), (2.95, 1.20),
    (3.0, 1.14), (3.1, 1.02), (3.3, 1.43), (3.4, 1.09), (3.5, 1.76), (3.6, 1.17), (3.8, 1.05), (3.9, 1.32),
    (4.0, 1.08), (4.1, 1.21), (4.3, 1.01), (4.4, 1.60), (4.5, 1.13), (4.7, 1.38), (4.8, 1.06), (4.9, 2.60), (4.95, 1.16),
    (5.0, 1.03), (5.2, 1.19), (5.3, 1.70), (5.4, 1.10), (5.6, 1.27), (5.7, 1.02), (5.8, 1.49), (5.9, 1.15),
    (6.0, 1.07), (6.1, 1.24), (6.3, 1.12), (6.4, 1.55), (6.5, 1.04), (6.7, 1.34), (6.8, 1.18), (6.9, 1.01),
    (7.0, 1.11), (7.2, 1.45), (7.3, 1.06), (7.4, 1.19), (7.6, 1.02), (7.7, 1.64), (7.8, 1.14), (7.9, 1.29),
    (8.0, 1.05), (8.1, 1.17), (8.3, 1.39), (8.4, 1.09), (8.6, 1.01), (8.7, 1.22), (8.8, 1.52), (8.9, 1.13),
    (9.0, 1.18), (9.1, 1.04), (9.3, 1.31), (9.4, 1.11), (9.6, 2.00), (9.7, 1.07), (9.8, 1.42), (9.9, 1.15),
    (10.0, 1.02), (10.2, 1.20), (10.3, 1.67), (10.4, 1.10), (10.6, 1.36), (10.7, 2.28), (10.8, 1.05), (10.9, 1.16),
    (11.0, 1.08), (11.1, 1.25), (11.3, 1.78), (11.4, 1.03), (11.5, 1.14), (11.7, 2.22), (11.8, 1.46), (11.9, 1.09),
    (12.0, 1.19), (12.2, 1.01), (12.3, 1.33), (12.4, 1.12), (12.6, 1.61), (12.7, 1.06), (12.8, 1.22), (12.9, 1.15),
    (13.0, 1.04), (13.1, 1.40), (13.3, 1.11), (13.4, 1.87), (13.5, 1.02), (13.6, 2.11), (13.8, 1.18), (13.9, 1.28),
    (14.0, 1.07), (14.2, 1.16), (14.3, 1.87), (14.4, 1.03), (14.6, 1.51), (14.7, 1.12), (14.8, 1.25), (14.9, 1.05),
    (15.0, 1.17), (15.1, 1.09), (15.3, 1.37), (15.4, 1.01), (15.6, 1.21), (15.7, 1.56), (15.8, 1.13), (15.9, 1.04),
    (16.0, 1.10), (16.2, 1.44), (16.3, 1.18), (16.4, 1.02), (16.6, 1.30), (16.7, 1.07), (16.8, 1.62), (16.9, 1.15),
    (17.0, 1.03), (17.1, 1.24), (17.3, 1.12), (17.4, 1.49), (17.5, 1.06), (17.7, 1.19), (17.8, 1.01), (17.9, 1.35),
    (18.0, 1.14), (18.2, 1.05), (18.3, 1.68), (18.4, 1.20), (18.6, 1.09), (18.7, 1.42), (18.8, 2.39), (18.9, 1.02),
    (19.0, 1.16), (19.1, 1.58), (19.3, 1.07), (19.4, 1.27), (19.6, 1.13), (19.7, 1.03), (19.8, 1.72), (19.9, 1.19),
    (20.0, 1.04), (20.2, 1.11), (20.3, 1.46), (20.4, 1.01), (20.6, 1.22), (20.7, 1.64), (20.8, 2.74), (20.9, 1.08),
    (21.0, 1.17), (21.1, 1.33), (21.3, 1.05), (21.4, 1.53), (21.6, 1.12), (21.7, 1.02), (21.8, 2.01), (21.9, 1.24),
    (22.0, 1.09), (22.2, 1.18), (22.3, 1.39), (22.4, 1.03), (22.6, 1.60), (22.7, 1.14), (22.8, 1.06), (22.9, 1.29),
    (23.0, 1.01), (23.1, 1.20), (23.3, 1.11), (23.4, 1.66), (23.6, 1.04), (23.7, 1.37), (23.8, 1.15), (23.9, 1.48),
    (24.0, 1.07), (24.2, 1.02), (24.3, 1.25), (24.4, 1.96), (24.5, 1.13), (24.7, 1.55), (24.8, 1.18), (24.9, 1.05),
    (25.0, 1.12), (25.1, 1.43), (25.3, 1.03), (25.4, 1.21), (25.6, 1.09), (25.7, 1.96), (25.8, 1.61), (25.9, 1.16),
    (26.0, 1.02), (26.2, 1.14), (26.3, 1.34), (26.4, 1.07), (26.6, 1.70), (26.7, 1.19), (26.8, 1.04), (26.9, 2.27), (26.95, 2.33),
    (27.0, 1.10), (27.1, 1.26), (27.3, 1.01), (27.4, 1.52), (27.6, 1.15), (27.7, 1.06), (27.8, 1.40), (27.9, 2.23), (27.95, 1.99),
    (28.0, 1.13), (28.2, 1.04), (28.3, 1.18), (28.4, 1.57), (28.6, 1.08), (28.7, 1.31), (28.8, 1.02), (28.9, 1.22),
    (29.0, 1.16), (29.1, 1.05), (29.3, 1.67), (29.4, 1.11), (29.6, 1.28), (29.7, 1.03), (29.8, 1.45), (29.9, 1.19),
    (30.0, 1.07), (30.2, 1.14), (30.3, 1.72), (30.4, 1.01), (30.6, 1.36), (30.7, 1.10), (30.8, 1.58), (30.9, 1.17),
    (31.0, 1.04), (31.1, 1.21), (31.3, 1.12), (31.4, 1.66), (31.5, 1.02), (31.6, 1.47), (31.7, 2.55), (31.75, 1.71), (31.8, 1.15), (31.9, 1.08),
    (1.65, 1.20), (1.75, 1.35), (1.85, 1.27), (1.9, 1.42), (1.95, 1.10), (2.05, 1.06), (2.25, 1.30), (2.55, 1.23),
    (2.85, 1.14), (2.75, 1.44), (3.05, 1.25), (3.25, 1.08), (3.55, 1.37), (3.85, 1.20), (4.05, 1.15), (4.25, 1.29),
    (4.55, 1.04), (4.85, 1.23), (5.05, 1.33), (5.25, 1.06), (5.55, 1.17), (5.85, 1.24), (6.05, 1.19), (6.25, 1.41),
    (6.55, 1.09), (6.85, 1.26), (7.05, 1.22), (7.35, 1.03), (7.55, 1.31), (7.85, 1.07), (8.05, 1.27), (8.25, 1.13),
    (8.55, 1.44), (8.85, 1.04), (9.05, 1.10), (9.25, 1.23), (9.55, 1.36), (9.85, 1.06), (10.05, 1.28), (10.25, 1.08),
    (10.55, 1.15), (10.85, 1.41), (11.05, 1.17), (11.25, 1.33), (11.55, 1.05), (11.85, 1.22), (12.05, 1.07), (12.25, 1.26),
    (12.55, 1.38), (12.85, 1.04), (13.05, 1.20), (13.25, 1.09), (13.55, 1.29), (13.85, 1.13), (14.05, 1.24), (14.25, 1.34),
    (14.55, 1.08), (14.85, 1.17), (15.05, 1.05), (15.25, 1.26), (15.55, 1.14), (15.85, 1.43), (16.05, 1.21), (16.25, 1.06),
    (16.55, 1.35), (16.85, 1.11), (17.05, 1.16), (17.25, 1.40), (17.55, 1.09), (17.85, 1.23), (18.05, 1.28), (18.25, 1.11),
    (18.55, 1.03), (18.85, 1.19), (19.05, 1.07), (19.25, 1.22), (19.55, 1.39), (19.85, 1.05), (20.05, 1.25), (20.25, 1.16),
    (20.55, 1.08), (20.85, 1.32), (21.05, 1.09), (21.25, 1.21), (21.55, 1.42), (21.85, 1.14), (22.05, 1.23), (22.25, 1.07),
    (22.55, 1.31), (22.85, 1.16), (23.05, 1.13), (23.25, 1.28), (23.55, 1.05), (23.85, 1.22), (24.05, 1.19), (24.25, 1.38),
    (24.55, 1.10), (24.85, 1.27), (25.05, 1.06), (25.25, 1.24), (25.55, 1.33), (25.85, 1.04), (26.05, 1.26), (26.25, 1.09),
    (26.55, 1.20), (26.85, 1.42), (27.05, 1.17), (27.25, 1.34), (27.55, 1.07), (27.85, 1.23), (28.05, 1.22), (28.25, 1.11),
    (28.55, 1.40), (28.85, 1.05), (29.05, 1.08), (29.25, 1.27), (29.55, 1.18), (29.85, 1.35), (30.05, 1.23), (30.25, 1.05),
    (30.55, 1.29), (30.85, 1.09), (31.05, 1.14), (31.25, 1.32), (31.55, 1.21), (31.85, 1.03), (31.95, 1.17),
]

months = [(2022, 10), (2022, 11), (2022, 12), (2023, 1), (2023, 2), (2023, 3)]
monthly_events = [oct_events, nov_events, dec_events, jan_events, feb_events, mar_events]

# Reference magnitude levels drawn as dashed lines
threshold_levels = [4.5, 4.0, 3.5, 3.0, 2.5, 2.0, 1.5]
threshold_colors = ["#000000", "#ff0000", "#ff6a0d", "#00b050", "#1cb1e6", "#0a0ae0", "#7030a0"]

# Summary table of event counts
count_labels = ["\u2265 3.0", "\u2265 2.5", "\u2265 2.0", "\u2265 1.5"]
count_values = [10, 38, 119, 447]
count_colors = ["#22b04a", "#1cb4f0", "#1f1fe8", "#d126c8"]

period_start = pd.Timestamp("2022-10-01")
period_end = pd.Timestamp("2023-04-01")
line_end = pd.Timestamp("2023-03-31")

# ---------------------------------------------------------------------------
rows = []
for (year, month), events in zip(months, monthly_events):
    first = pd.Timestamp(year, month, 1)
    for day, mag in events:
        rows.append((first + pd.to_timedelta(day - 1, unit="D"), mag))
df = pd.DataFrame(rows, columns=["time", "magnitude"])

sns.set_theme(style="white")
plt.rcParams["font.family"] = ["Lato", "DejaVu Sans"]

W, H = 1827, 1125
fig = plt.figure(figsize=(W / 100, H / 100), dpi=100)
fig.patch.set_facecolor("white")


def fx(px):
    return px / W


def fy(py):
    return 1 - py / H


# Chart frame and header rule
fig.add_artist(Rectangle((fx(11), fy(1140)), fx(1825) - fx(11), fy(10) - fy(1140),
                         transform=fig.transFigure, facecolor="#d9d9d9",
                         edgecolor="#3f6ff0", lw=1.6, zorder=-2))
fig.add_artist(Line2D([0, 1], [fy(2.5), fy(2.5)], transform=fig.transFigure,
                      color="#1f3864", lw=2.0, zorder=-1))

ax = fig.add_axes([fx(147), fy(948), fx(1790) - fx(147), fy(125) - fy(948)])
ax.set_facecolor("white")

sns.scatterplot(data=df, x="time", y="magnitude", ax=ax, s=95,
                color="#2f6cf6", edgecolor="#1c1c3c", linewidth=0.9,
                clip_on=False, legend=False, zorder=2)

x0, x1 = mdates.date2num(period_start), mdates.date2num(line_end)
for lvl, col in zip(threshold_levels, threshold_colors):
    ax.plot([x0, x1], [lvl, lvl], color=col, lw=2.8, ls=(0, (4.3, 3.5)),
            clip_on=False, zorder=3, solid_capstyle="butt")

ax.set_xlim(period_start, period_end)
ax.set_ylim(1.0, 4.5)
tick_dates = pd.date_range(period_start, periods=13, freq="15D")
ax.set_xticks(mdates.date2num(tick_dates))
ax.set_xticklabels([f"{d:%B} {d.day}, {d.year}" for d in tick_dates])
yt = np.arange(1.0, 4.51, 0.5)
ax.set_yticks(yt)
ax.set_yticklabels([f"{v:.1f}" for v in yt])
ax.tick_params(axis="both", length=0, labelsize=16, labelcolor="#404040")
ax.tick_params(axis="x", pad=18)
ax.tick_params(axis="y", pad=19)
for lbl in ax.get_xticklabels():
    lbl.set_rotation(40)
    lbl.set_ha("right")
    lbl.set_va("top")
    lbl.set_rotation_mode("anchor")

ax.grid(True, color="#d9d9d9", lw=1.5)
ax.set_axisbelow(True)
for sp in ax.spines.values():
    sp.set_color("#4472f0")
    sp.set_linewidth(1.5)
    sp.set_visible(True)

ax.set_ylabel("Seismic Event Magnitude", color="#4a7af5", fontsize=20)
ax.yaxis.set_label_coords((51 - 147) / 1643, 0.5)
ax.yaxis.label.set_va("center")
ax.set_xlabel("Date", color="#4a7af5", fontsize=19.5)
ax.xaxis.set_label_coords((917 - 147) / 1643, -(1095 - 948) / 823)
ax.xaxis.label.set_va("center")

fig.text(fx(920), fy(47), "The Geysers Fieldwide Seismicity", color="#4a7af5",
         fontsize=20.2, ha="center", va="center")
fig.text(fx(918), fy(86), "01 October 2022 to 31 March 2023", color="#404040",
         fontsize=19.7, ha="center", va="center")

# Callouts for the largest events: box centre (x, y), width, leader anchor on the box
callout_layout = [
    (154, 304, 184, 0.48, 0.0),
    (154, 224.5, 186, 1.0, 0.5),
    (253, 148.5, 186, 0.53, 0.0),
    (371.5, 224.5, 185, 0.47, 0.0),
    (485, 304, 206, 0.50, 0.0),
    (1011, 304, 182, 0.52, 0.0),
    (1264.5, 305, 211, 0.50, 0.0),
    (1275, 220, 184, 1.0, 0.5),
    (1672.5, 220, 183, 0.0, 0.5),
    (1475.5, 193, 183, 0.58, 0.0),
]
box_h = 71
largest = df[df["magnitude"] >= 3.0].sort_values("time")
for (t, mag), (cx, cy, bw, rx, ry) in zip(largest[["time", "magnitude"]].itertuples(index=False), callout_layout):
    left, bottom = cx - bw / 2, cy + box_h / 2
    fig.add_artist(Rectangle((fx(left), fy(bottom)), bw / W, box_h / H,
                             transform=fig.transFigure, facecolor="white",
                             edgecolor="black", lw=1.5, zorder=5))
    fig.text(fx(cx), fy(cy - 12.5), f"{t.day:02d} {t.month_name()} {t.year}",
             ha="center", va="center", fontsize=13.8, fontweight="bold",
             color="black", zorder=6)
    mag_color = "#d9731a" if mag >= 3.5 else "#00b050"
    fig.text(fx(cx), fy(cy + 13.5), f"Magnitude {mag:.2f}", ha="center",
             va="center", fontsize=14.2, fontweight="bold", color=mag_color, zorder=6)
    ax_px = left + rx * bw
    ay_px = bottom - ry * box_h
    ax.annotate("", xy=(mdates.date2num(t), mag), xycoords="data",
                xytext=(fx(ax_px), fy(ay_px)), textcoords="figure fraction",
                arrowprops=dict(arrowstyle="-", color="black", lw=1.3,
                                shrinkA=0, shrinkB=8),
                annotation_clip=False)

# Count table in the top-right corner
tbl_left, tbl_bottom = 1412, 148
fig.add_artist(Rectangle((fx(tbl_left), fy(tbl_bottom)), (1860 - tbl_left) / W, (tbl_bottom + 30) / H,
                         transform=fig.transFigure, facecolor="white",
                         edgecolor="black", lw=3.6, zorder=7))
for yline in [27, 68, 108]:
    fig.add_artist(Line2D([fx(tbl_left + 3), fx(1827)], [fy(yline), fy(yline)],
                          transform=fig.transFigure, color="#d0d0d0", lw=1.5, zorder=8))
fig.add_artist(Line2D([fx(1592), fx(1592)], [fy(0), fy(tbl_bottom - 3)],
                      transform=fig.transFigure, color="#d0d0d0", lw=1.5, zorder=8))
for ytxt, lab, val, col in zip([9, 49, 89, 129], count_labels, count_values, count_colors):
    fig.text(fx(1502), fy(ytxt), lab, ha="center", va="center", fontsize=17.5,
             fontweight="bold", color=col, zorder=9)
    fig.text(fx(1730), fy(ytxt), str(val), ha="center", va="center", fontsize=17.5,
             fontweight="bold", color=col, zorder=9)

fig.savefig("out.png", dpi=100, facecolor=fig.get_facecolor())
